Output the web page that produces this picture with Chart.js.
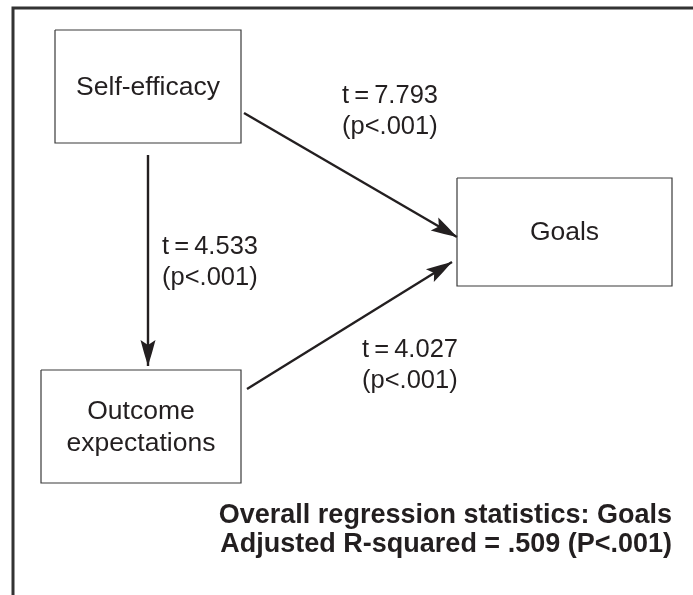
<!DOCTYPE html>
<html lang="en">
<head>
    <meta charset="UTF-8">
    <title>Path model: Goals</title>
    <style>
        body {
            margin: 0;
            background-color: #ffffff;
        }
        #pathChart {
            display: block;
        }
    </style>
</head>
<body>
    <canvas id="pathChart" width="693" height="595"></canvas>

    <script src="https://cdn.jsdelivr.net/npm/chart.js"></script>
    <script>
        // model data
        const nodeLabels = [["Self-efficacy"], ["Goals"], ["Outcome", "expectations"]];
        const pathNames = ["Self-efficacy -> Goals", "Self-efficacy -> Outcome expectations", "Outcome expectations -> Goals"];
        const tValues = [7.793, 4.533, 4.027];
        const pValues = ["<.001", "<.001", "<.001"];
        const outcomeName = "Goals";
        const adjR2 = ".509";
        const modelP = "<.001";

        // layout (diagram pixels)
        const nodeBoxes = [[55, 30, 241, 143], [457, 178, 672, 286], [41, 370, 241, 483]];
        const nodeTextY = [[95], [240], [419, 451]];
        const pathLines = [[244, 113, 457, 237], [148, 155, 148, 366], [247, 389, 452, 262]];
        const pathTextPos = [[342, 103], [162, 254], [362, 357]];

        const ink = "#231f20";
        const font = "Arial, 'Liberation Sans', sans-serif";

        const datasets = [];

        // frame (open to the right and bottom)
        datasets.push({
            data: [{ x: 13, y: 595 }, { x: 13, y: 8 }, { x: 693, y: 8 }],
            borderColor: "#333333",
            borderWidth: 3
        });

        nodeBoxes.forEach(b => {
            datasets.push({
                data: [
                    { x: b[0], y: b[1] }, { x: b[2], y: b[1] },
                    { x: b[2], y: b[3] }, { x: b[0], y: b[3] },
                    { x: b[0], y: b[1] }
                ],
                borderColor: "#3a3a3a",
                borderWidth: 1.2
            });
        });

        pathLines.forEach((p, i) => {
            datasets.push({
                label: pathNames[i],
                arrow: true,
                data: [{ x: p[0], y: p[1] }, { x: p[2], y: p[3] }],
                borderColor: ink,
                borderWidth: 2.4
            });
        });

        datasets.forEach(d => {
            d.showLine = true;
            d.pointRadius = 0;
            d.pointHoverRadius = 0;
            d.clip = false;
            d.borderJoinStyle = "miter";
        });

        const diagramPlugin = {
            id: "diagram",
            afterDatasetsDraw(chart) {
                const ctx = chart.ctx;
                const xs = chart.scales.x;
                const ys = chart.scales.y;
                ctx.save();

                // arrowheads
                chart.data.datasets.forEach(ds => {
                    if (!ds.arrow) return;
                    const a = ds.data[0], b = ds.data[1];
                    const x1 = xs.getPixelForValue(a.x), y1 = ys.getPixelForValue(a.y);
                    const x2 = xs.getPixelForValue(b.x), y2 = ys.getPixelForValue(b.y);
                    const ang = Math.atan2(y2 - y1, x2 - x1);
                    const len = 26, half = 7.5, notch = 21;
                    ctx.translate(x2, y2);
                    ctx.rotate(ang);
                    ctx.beginPath();
                    ctx.moveTo(0, 0);
                    ctx.quadraticCurveTo(-len * 0.5, -half * 0.55, -len, -half);
                    ctx.lineTo(-notch, 0);
                    ctx.lineTo(-len, half);
                    ctx.quadraticCurveTo(-len * 0.5, half * 0.55, 0, 0);
                    ctx.closePath();
                    ctx.fillStyle = ink;
                    ctx.fill();
                    ctx.setTransform(1, 0, 0, 1, 0, 0);
                });

                ctx.fillStyle = ink;
                ctx.textBaseline = "alphabetic";

                // node labels
                ctx.font = "26.5px " + font;
                ctx.textAlign = "center";
                nodeLabels.forEach((lines, i) => {
                    const b = nodeBoxes[i];
                    const cx = xs.getPixelForValue((b[0] + b[2]) / 2);
                    lines.forEach((t, j) => {
                        ctx.fillText(t, cx, ys.getPixelForValue(nodeTextY[i][j]));
                    });
                });

                // path statistics
                ctx.font = "25.5px " + font;
                ctx.textAlign = "left";
                tValues.forEach((t, i) => {
                    const px = xs.getPixelForValue(pathTextPos[i][0]);
                    const py = ys.getPixelForValue(pathTextPos[i][1]);
                    ctx.fillText("t\u2009=\u2009" + t.toFixed(3), px, py);
                    ctx.fillText("(p" + pValues[i] + ")", px, py + 31);
                });

                // overall model summary
                ctx.font = "bold 27px " + font;
                ctx.textAlign = "right";
                const rx = xs.getPixelForValue(672);
                ctx.fillText("Overall regression statistics: " + outcomeName, rx, ys.getPixelForValue(523));
                ctx.fillText("Adjusted R-squared = " + adjR2 + " (P" + modelP + ")", rx, ys.getPixelForValue(552));

                ctx.restore();
            }
        };

        new Chart(document.getElementById("pathChart"), {
            type: "scatter",
            data: { datasets: datasets },
            options: {
                responsive: false,
                animation: false,
                layout: { padding: 0 },
                plugins: {
                    legend: { display: false },
                    tooltip: { enabled: false },
                    title: { display: false }
                },
                scales: {
                    x: { type: "linear", min: 0, max: 693, display: false },
                    y: { type: "linear", min: 0, max: 595, reverse: true, display: false }
                }
            },
            plugins: [diagramPlugin]
        });
    </script>
</body>
</html>
